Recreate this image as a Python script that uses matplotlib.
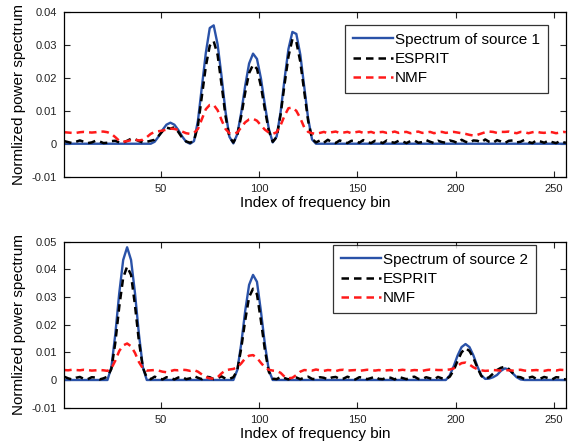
import numpy as np
import matplotlib
matplotlib.use('Agg')
import matplotlib.pyplot as plt
from matplotlib.ticker import FuncFormatter

plt.rcParams['font.family'] = ['Liberation Sans', 'DejaVu Sans']

# frequency bins (every 2nd bin, plus the last one)
bins = list(range(1, 256, 2)) + [256]

# values in units of 1e-3
src1_true = [
    0, 0, 0, 0, 0, 0, 0, 0, 0, 0, 0, 0, 0, 0, 0, 0,
    0, 0, 0, 0, 0, 0, 0, 0.6, 2.2, 4.2, 5.8, 6.4, 5.8, 4.2, 2.2, 0.6,
    0, 0.8, 7.0, 17.2, 27.6, 35.2, 36.0, 30.2, 20.5, 9.8, 2.1, 0.1, 2.9, 9.5, 17.6, 24.4,
    27.4, 25.8, 19.9, 11.9, 4.6, 0.4, 2.2, 9.6, 19.6, 28.8, 34.0, 33.4, 27.2, 17.5, 7.7, 1.3,
    0, 0, 0, 0, 0, 0, 0, 0, 0, 0, 0, 0, 0, 0, 0, 0,
    0, 0, 0, 0, 0, 0, 0, 0, 0, 0, 0, 0, 0, 0, 0, 0,
    0, 0, 0, 0, 0, 0, 0, 0, 0, 0, 0, 0, 0, 0, 0, 0,
    0, 0, 0, 0, 0, 0, 0, 0, 0, 0, 0, 0, 0, 0, 0, 0,
    0]
src1_esprit = [
    0.8, 0.5, 0.2, 0.6, 1.0, 0.6, 0.2, 0.4, 0.9, 0.7, 0.2, 0.3, 0.8, 0.9, 0.4, 0.3,
    0.9, 1.5, 1.4, 0.8, 0.4, 0.6, 0.9, 1.2, 2.4, 3.8, 4.9, 4.6, 5.0, 3.6, 1.8, 0.7,
    0.3, 0.9, 5.5, 14.5, 23.5, 29.8, 31.2, 27.0, 18.0, 8.5, 2.0, 0.4, 2.6, 8.4, 15.5, 21.5,
    24.0, 22.8, 17.5, 10.5, 4.0, 0.6, 2.0, 8.8, 18.0, 26.5, 31.8, 31.0, 25.0, 16.0, 7.0, 1.5,
    0.4, 1.0, 0.3, 1.2, 0.5, 0.2, 1.0, 0.6, 0.2, 0.9, 0.8, 0.3, 1.1, 0.5, 0.2, 0.9,
    0.6, 0.2, 1.0, 0.5, 0.3, 0.9, 0.7, 0.2, 0.8, 1.0, 0.3, 0.5, 1.1, 0.6, 0.2, 0.9,
    0.5, 0.3, 1.0, 0.7, 0.2, 1.2, 0.6, 0.3, 1.0, 0.9, 0.4, 1.3, 0.6, 0.3, 1.1, 0.7,
    0.2, 0.9, 1.0, 0.4, 0.6, 1.2, 0.5, 0.2, 1.0, 0.7, 0.3, 0.9, 0.5, 0.2, 0.8, 0.4,
    0.3]
src1_nmf = [
    3.5, 3.4, 3.3, 3.3, 3.5, 3.6, 3.5, 3.4, 3.5, 3.7, 3.7, 3.5, 3.0, 2.0, 0.9, 0.6,
    0.8, 1.1, 1.2, 1.0, 1.2, 2.0, 3.0, 3.6, 3.8, 4.0, 4.3, 4.6, 4.5, 4.2, 3.7, 3.2,
    3.0, 3.3, 4.5, 7.5, 10.5, 11.8, 11.8, 10.2, 7.2, 4.5, 3.2, 3.0, 3.4, 5.0, 6.5, 7.4,
    7.6, 7.0, 5.6, 4.3, 3.4, 3.0, 3.5, 5.6, 8.5, 10.8, 11.0, 10.0, 7.8, 5.0, 3.6, 3.2,
    3.0, 3.3, 3.6, 3.2, 3.5, 3.7, 3.3, 3.4, 3.6, 3.2, 3.5, 3.7, 3.3, 3.4, 3.6, 3.2,
    3.5, 3.6, 3.3, 3.4, 3.7, 3.3, 3.5, 3.6, 3.2, 3.5, 3.7, 3.3, 3.4, 3.6, 3.2, 3.5,
    3.6, 3.3, 3.5, 3.6, 3.4, 3.2, 3.0, 2.7, 2.5, 2.7, 3.1, 3.5, 3.7, 3.6, 3.3, 3.6,
    3.6, 3.7, 3.4, 3.2, 3.6, 3.5, 3.2, 3.5, 3.7, 3.4, 3.3, 3.6, 3.5, 3.2, 3.4, 3.6,
    3.5]

src2_true = [
    0, 0, 0, 0, 0, 0, 0, 0, 0, 0, 0, 0, 4.6, 16.6, 31.4, 43.4,
    48.0, 43.4, 31.4, 16.6, 4.6, 0, 0, 0, 0, 0, 0, 0, 0, 0, 0, 0,
    0, 0, 0, 0, 0, 0, 0, 0, 0, 0, 0, 0, 3.6, 13.1, 24.9, 34.4,
    38.0, 35.5, 24.9, 13.1, 3.6, 0, 0, 0, 0, 0, 0, 0, 0, 0, 0, 0,
    0, 0, 0, 0, 0, 0, 0, 0, 0, 0, 0, 0, 0, 0, 0, 0,
    0, 0, 0, 0, 0, 0, 0, 0, 0, 0, 0, 0, 0, 0, 0, 0,
    0, 0, 1.7, 5.0, 8.9, 11.9, 13.0, 11.9, 8.9, 5.0, 1.7, 0.4, 0.5, 1.0, 1.8, 3.3,
    4.2, 3.8, 2.4, 1.0, 0.2, 0, 0, 0, 0, 0, 0, 0, 0, 0, 0, 0,
    0]
src2_esprit = [
    1.2, 0.6, 0.2, 0.8, 1.1, 0.4, 0.3, 1.0, 0.9, 0.2, 0.6, 1.2, 4.0, 13.5, 26.5, 37.0,
    41.0, 38.0, 27.0, 14.0, 4.5, 0.8, 0.3, 1.2, 0.6, 0.2, 1.0, 0.8, 0.2, 0.9, 1.1, 0.3,
    0.6, 1.4, 0.8, 0.3, 1.2, 1.0, 0.3, 0.7, 1.3, 0.5, 0.4, 1.0, 3.5, 11.5, 21.5, 30.0,
    33.0, 31.0, 21.5, 11.0, 3.0, 0.5, 0.3, 1.1, 0.7, 0.2, 1.0, 0.9, 0.3, 0.8, 1.2, 0.4,
    0.3, 1.0, 0.8, 0.2, 0.9, 1.1, 0.4, 0.5, 1.2, 0.6, 0.2, 1.0, 0.9, 0.3, 0.7, 1.2,
    0.4, 0.3, 1.0, 0.8, 0.2, 1.1, 0.7, 0.3, 0.9, 1.2, 0.4, 0.3, 1.0, 0.6, 0.2, 1.1,
    0.6, 0.3, 1.2, 3.5, 7.0, 10.0, 11.5, 10.5, 8.0, 4.5, 1.5, 0.4, 1.0, 2.3, 3.6, 4.4,
    4.8, 4.0, 2.5, 1.2, 1.0, 0.3, 0.8, 1.2, 0.4, 0.5, 1.1, 0.7, 0.2, 1.0, 0.9, 0.3,
    0.2]
src2_nmf = [
    3.6, 3.5, 3.7, 3.6, 3.5, 3.7, 3.6, 3.4, 3.5, 3.6, 3.5, 3.3, 4.2, 7.0, 10.5, 12.5,
    13.2, 12.2, 9.8, 6.5, 4.2, 3.4, 3.5, 3.6, 3.4, 3.0, 2.8, 3.2, 3.6, 3.5, 3.7, 3.6,
    3.3, 3.6, 3.0, 2.0, 1.0, 0.6, 0.5, 1.0, 2.4, 3.5, 3.8, 4.0, 4.6, 6.0, 7.8, 8.8,
    9.0, 8.0, 6.2, 4.6, 3.7, 3.4, 3.3, 2.6, 1.2, 0.6, 0.8, 1.8, 3.0, 3.6, 3.5, 3.4,
    3.8, 3.5, 3.3, 3.6, 3.5, 3.2, 3.6, 3.7, 3.4, 3.5, 3.6, 3.3, 3.5, 3.7, 3.6, 3.4,
    3.6, 3.3, 3.5, 3.6, 3.4, 3.5, 3.7, 3.5, 3.4, 3.6, 3.5, 3.3, 3.6, 3.8, 3.7, 3.6,
    3.6, 3.7, 3.8, 4.2, 5.2, 6.1, 6.3, 5.6, 4.6, 3.9, 3.5, 3.3, 3.4, 3.6, 3.5, 3.4,
    3.6, 3.5, 3.4, 3.6, 3.7, 3.4, 3.3, 3.5, 3.6, 3.4, 3.3, 3.6, 3.5, 3.4, 3.7, 3.6,
    3.5]

xticks = [50, 100, 150, 200, 250]
top_yticks = [-0.01, 0, 0.01, 0.02, 0.03, 0.04]
bot_yticks = [-0.01, 0, 0.01, 0.02, 0.03, 0.04, 0.05]

fig = plt.figure(figsize=(5.78, 4.46), dpi=100)
ax1 = fig.add_axes([0.111, 0.604, 0.868, 0.3686])
ax2 = fig.add_axes([0.111, 0.086, 0.868, 0.372])

blue = '#2a52a8'
dash = (0, (3, 2))

def draw(ax, true, esp, nmf, name, yticks, legpos):
    x = np.array(bins)
    ax.plot(x, np.array(true) * 1e-3, color=blue, lw=1.7, label=name,
            solid_joinstyle='round')
    ax.plot(x, np.array(esp) * 1e-3, color='black', lw=1.8, ls=dash, label='ESPRIT',
            dash_joinstyle='round')
    ax.plot(x, np.array(nmf) * 1e-3, color='#ff1a1a', lw=1.8, ls=dash, label='NMF',
            dash_joinstyle='round')
    ax.set_xlim(1, 256)
    ax.set_ylim(yticks[0], yticks[-1])
    ax.set_xticks(xticks)
    ax.set_yticks(yticks)
    ax.yaxis.set_major_formatter(FuncFormatter(lambda v, p: '%g' % round(v, 4)))
    ax.tick_params(direction='in', top=True, right=True, labelsize=8, length=4,
                   colors='#222222', pad=5)
    for s in ax.spines.values():
        s.set_linewidth(0.9)
    ax.set_xlabel('Index of frequency bin', fontsize=11, labelpad=2)
    ax.set_ylabel('Normlized power spectrum', fontsize=11, labelpad=4)
    leg = ax.legend(loc='upper right', bbox_to_anchor=legpos, fontsize=11,
                    frameon=True, fancybox=False, edgecolor='black',
                    handlelength=2.6, handletextpad=0.15, labelspacing=0.35,
                    borderpad=0.5, borderaxespad=0)
    leg.get_frame().set_linewidth(0.9)

draw(ax1, src1_true, src1_esprit, src1_nmf, 'Spectrum of source 1', top_yticks, (0.9635, 0.9227))
draw(ax2, src2_true, src2_esprit, src2_nmf, 'Spectrum of source 2', bot_yticks, (0.940, 0.980))

fig.savefig('out.png', dpi=100)
